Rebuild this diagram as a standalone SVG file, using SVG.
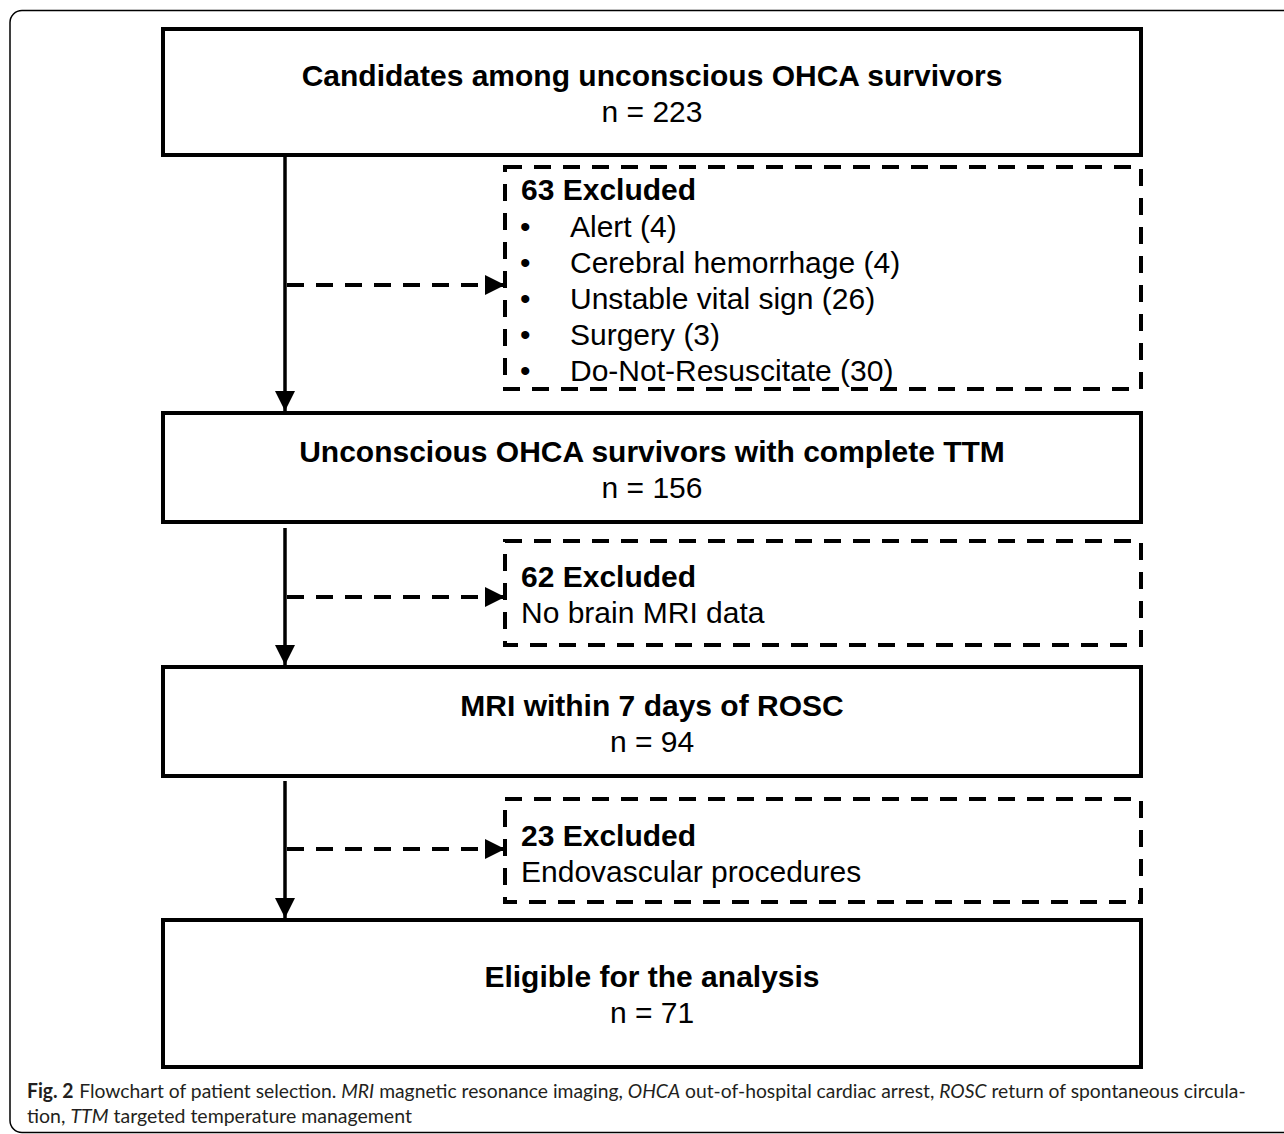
<svg xmlns="http://www.w3.org/2000/svg" width="1284" height="1134" viewBox="0 0 1284 1134">
<style>
.box{fill:#fff;stroke:#000;stroke-width:4}
.dbox{fill:#fff;stroke:#000;stroke-width:4;stroke-dasharray:17 12}
.t{font-family:"Liberation Sans",Arial,sans-serif;font-size:30px;fill:#000}
.b{font-weight:bold}
.c{text-anchor:middle}
.line{stroke:#000;stroke-width:3.5;fill:none}
.dline{stroke:#000;stroke-width:4;fill:none;stroke-dasharray:17 12}
.cap{font-family:Lato,"Open Sans",sans-serif;font-size:20px;fill:#231f20}
.i{font-style:italic}
</style>
<defs>
<marker id="ah" viewBox="0 0 20 20" refX="20" refY="10" markerWidth="20" markerHeight="20" markerUnits="userSpaceOnUse" orient="auto">
<path d="M0,0 L20,10 L0,20 z" fill="#000"/>
</marker>
</defs>
<rect x="10" y="10.5" width="1300" height="1122" rx="12" fill="#fff" stroke="#000" stroke-width="1.5"/>

<g id="connectors">
<line class="line" x1="285" y1="157" x2="285" y2="411" marker-end="url(#ah)"/>
<line class="dline" x1="287" y1="285" x2="505" y2="285" marker-end="url(#ah)"/>
<line class="line" x1="285" y1="528" x2="285" y2="665" marker-end="url(#ah)"/>
<line class="dline" x1="287" y1="597" x2="505" y2="597" marker-end="url(#ah)"/>
<line class="line" x1="285" y1="781" x2="285" y2="918" marker-end="url(#ah)"/>
<line class="dline" x1="287" y1="849" x2="505" y2="849" marker-end="url(#ah)"/>
</g>

<g id="n1">
<rect class="box" x="163" y="29" width="978" height="126"/>
<text class="t b c" x="652" y="86">Candidates among unconscious OHCA survivors</text>
<text class="t c" x="652" y="122">n = 223</text>
</g>

<g id="ex1">
<rect class="dbox" x="505" y="167" width="636" height="222"/>
<text class="t b" x="521" y="200">63 Excluded</text>
<g class="t">
<text x="520" y="237">•</text><text x="570" y="237">Alert (4)</text>
<text x="520" y="273">•</text><text x="570" y="273">Cerebral hemorrhage (4)</text>
<text x="520" y="309">•</text><text x="570" y="309">Unstable vital sign (26)</text>
<text x="520" y="345">•</text><text x="570" y="345">Surgery (3)</text>
<text x="520" y="381">•</text><text x="570" y="381">Do-Not-Resuscitate (30)</text>
</g>
</g>

<g id="n2">
<rect class="box" x="163" y="413" width="978" height="109"/>
<text class="t b c" x="652" y="462">Unconscious OHCA survivors with complete TTM</text>
<text class="t c" x="652" y="498">n = 156</text>
</g>

<g id="ex2">
<rect class="dbox" x="505" y="541" width="636" height="104"/>
<text class="t b" x="521" y="587">62 Excluded</text>
<text class="t" x="521" y="623">No brain MRI data</text>
</g>

<g id="n3">
<rect class="box" x="163" y="667" width="978" height="109"/>
<text class="t b c" x="652" y="716">MRI within 7 days of ROSC</text>
<text class="t c" x="652" y="752">n = 94</text>
</g>

<g id="ex3">
<rect class="dbox" x="505" y="799" width="636" height="103"/>
<text class="t b" x="521" y="846">23 Excluded</text>
<text class="t" x="521" y="882">Endovascular procedures</text>
</g>

<g id="n4">
<rect class="box" x="163" y="920" width="978" height="147"/>
<text class="t b c" x="652" y="987">Eligible for the analysis</text>
<text class="t c" x="652" y="1023">n = 71</text>
</g>

<g id="caption">
<text class="cap" transform="translate(27,1098) scale(0.965,1)"><tspan class="b">Fig. 2</tspan><tspan dx="6">Flowchart of patient selection. </tspan><tspan class="i">MRI</tspan> magnetic resonance imaging, <tspan class="i">OHCA</tspan> out-of-hospital cardiac arrest, <tspan class="i">ROSC</tspan> return of spontaneous circula-</text>
<text class="cap" transform="translate(27,1123) scale(0.975,1)">tion, <tspan class="i">TTM</tspan> targeted temperature management</text>
</g>
</svg>
